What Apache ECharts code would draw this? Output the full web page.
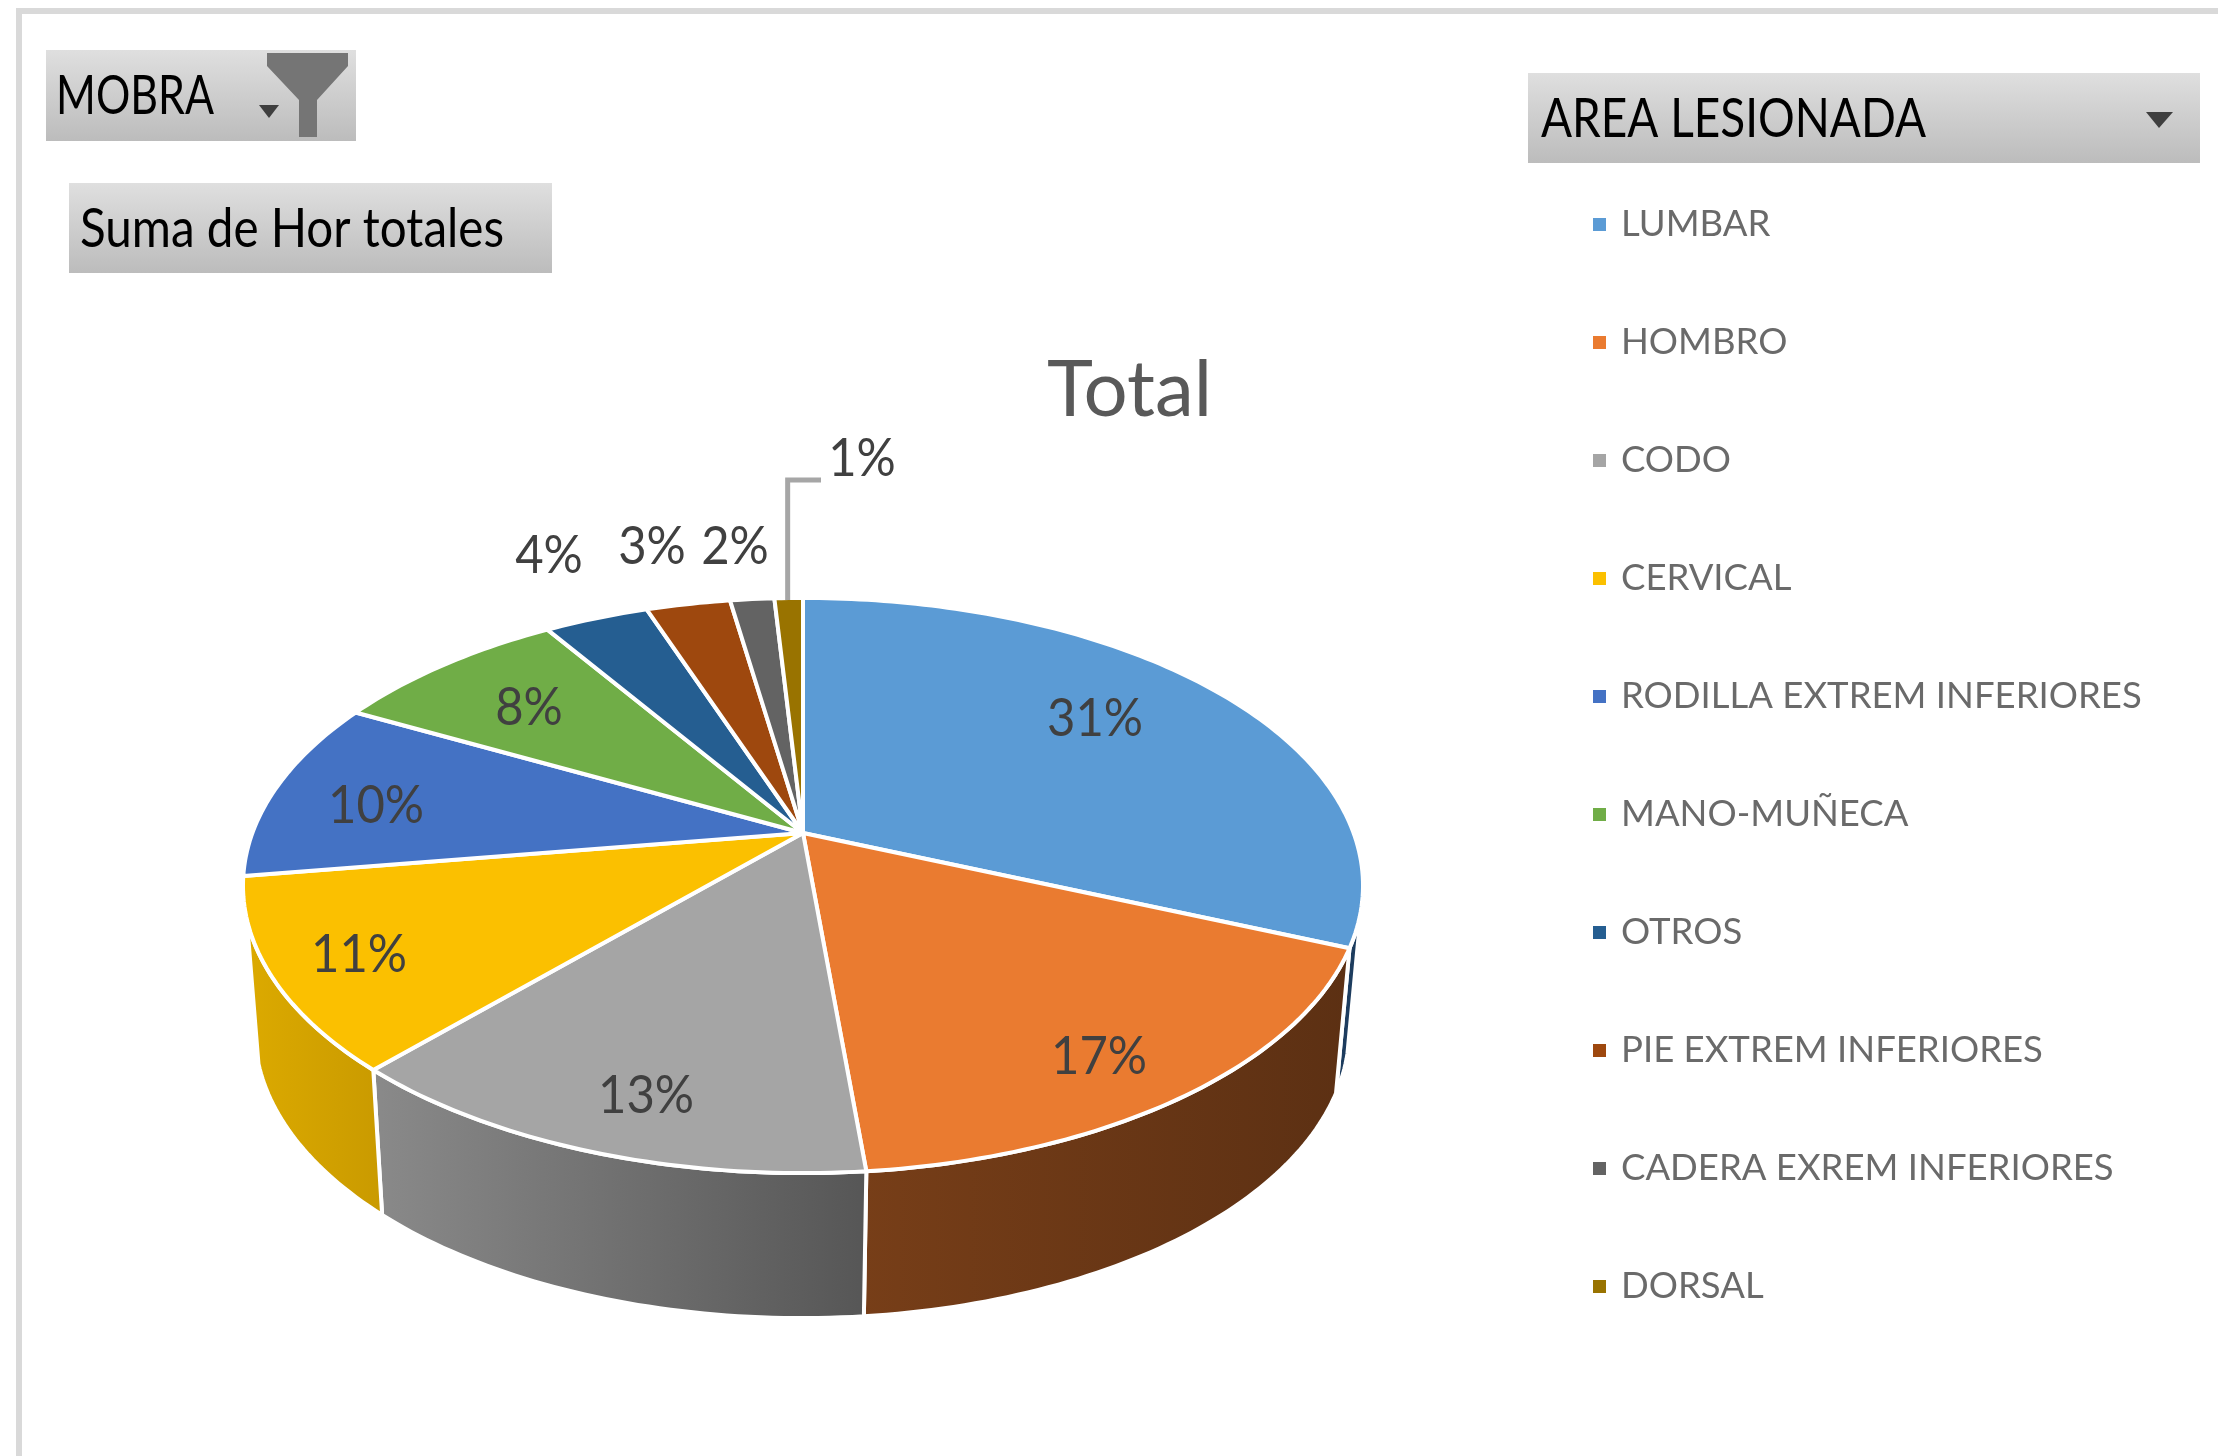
<!DOCTYPE html>
<html><head><meta charset="utf-8">
<style>html,body{margin:0;padding:0;background:#fff}#c{width:2218px;height:1456px}</style>
<script src="https://cdn.jsdelivr.net/npm/echarts@6/dist/echarts.min.js"></script>
</head><body><div id="c"></div>
<script>
// ---- data ----
const categories = ['LUMBAR','HOMBRO','CODO','CERVICAL','RODILLA EXTREM INFERIORES','MANO-MUÑECA','OTROS','PIE EXTREM INFERIORES','CADERA EXREM INFERIORES','DORSAL'];
const values = [31.3,17.2,13.3,10.8,10.2,8.2,3.6,2.9,1.52,0.98];
// ---- styles ----
const topColors = ['#5b9bd5','#ea7b30','#a5a5a5','#fbc000','#4472c4','#70ad47','#255e91','#9e480e','#636363','#997300'];
const wallColors = [['#1d3c5e','#1d3c5e'],['#773e18','#5c3013'],['#8a8a8a','#565656'],['#dcaa00','#c99a00'],null,null,null,null,null,null];
const labelCenters = [[1095,719],[1099,1057],[646,1096],[359,955],[376,806],[529,708],[549,556],[652,547],[735,547],[862,459]];
const FONT = 'Lato,"Liberation Sans",sans-serif';
// ---- 3D pie projection ----
const K = 0.1826;
const topFace = {cx:803, cy:833, A:550.6, B:278};
const baseFace = {cx:802, cy:978, A:538, B:278};
const WALL_FROM = 105, WALL_TO = 253;
const total = values.reduce((a,b)=>a+b,0);
const measure = document.createElement('canvas').getContext('2d');
function widthFit(text,font,target){ measure.font=font; return target/measure.measureText(text).width; }
const labelFont = '53px '+FONT;
const labelScale = widthFit('31%',labelFont,96);
function project(face, deg){
  const t = deg*Math.PI/180, u = Math.sin(t), v = -Math.cos(t), w = 1-K*v;
  return [face.cx+face.A*u/w, face.cy+face.B*v/w];
}
function arc(face, from, to){
  const pts=[]; const n=Math.max(2,Math.ceil(Math.abs(to-from)));
  for(let i=0;i<=n;i++) pts.push(project(face, from+(to-from)*i/n));
  return pts;
}
function sliceSpan(i){
  let before=0; for(let j=0;j<i;j++) before+=values[j];
  return [before/total*360,(before+values[i])/total*360];
}
function renderSlice(i){
  return function(params, api){
    const [a0,a1]=sliceSpan(i);
    const kids=[];
    const wa=Math.max(a0,WALL_FROM), wb=Math.min(a1,WALL_TO);
    if(wb>wa && wallColors[i]){
      const pts=arc(topFace,wa,wb).concat(arc(baseFace,wb,wa));
      kids.push({type:'polygon',shape:{points:pts},style:{
        fill:new echarts.graphic.LinearGradient(0,0,1,0,[{offset:0,color:wallColors[i][0]},{offset:1,color:wallColors[i][1]}]),
        stroke:'#fff',lineWidth:4,lineJoin:'round'}});
    }
    const pts=[[topFace.cx,topFace.cy]].concat(arc(topFace,a0,a1));
    kids.push({type:'polygon',shape:{points:pts},style:{fill:topColors[i],stroke:'#fff',lineWidth:4,lineJoin:'round'},z2:5});
    const c=labelCenters[i];
    if(i===values.length-1){
      const rim=project(topFace,(a0+a1)/2);
      kids.push({type:'polyline',shape:{points:[[rim[0]-1,rim[1]+2],[rim[0]-1,480],[821,480]]},style:{fill:'none',stroke:'#a6a6a6',lineWidth:5},z2:6});
    }
    kids.push({type:'text',z2:10,x:c[0],y:c[1],scaleX:labelScale,style:{text:Math.round(values[i]/total*100)+'%',x:0,y:0,align:'center',verticalAlign:'middle',fill:'#404040',font:labelFont}});
    return {type:'group',children:kids};
  };
}
const series = categories.map((name,i)=>({
  type:'custom',name,coordinateSystem:'none',data:[values[i]],
  itemStyle:{color:topColors[i]},renderItem:renderSlice(i),silent:true,animation:false
}));
function button(x,y,w,h){
  return {type:'rect',shape:{x,y,width:w,height:h},style:{fill:new echarts.graphic.LinearGradient(0,0,0,1,[{offset:0,color:'#dfdfdf'},{offset:1,color:'#bcbcbc'}])}};
}
function label(text,x,y,target){
  const font='54px '+FONT;
  return {type:'text',x,y,scaleX:widthFit(text,font,target),style:{text,x:0,y:0,align:'left',verticalAlign:'middle',fill:'#000',font},z:5};
}
const chart = echarts.init(document.getElementById('c'),null,{renderer:'canvas'});
chart.setOption({
  animation:false,backgroundColor:'#fff',
  title:{text:'Total',left:1047,top:352,padding:0,textStyle:{color:'#595959',fontSize:78,fontWeight:'normal',fontFamily:FONT}},
  legend:{orient:'vertical',left:1588,top:201,itemWidth:13,itemHeight:13,itemGap:81,icon:'rect',selectedMode:false,
    data:categories,textStyle:{color:'#6a6a6a',fontSize:36.5,fontFamily:FONT,padding:[0,0,0,10]}},
  graphic:[
    {type:'rect',shape:{x:16,y:8,width:2202,height:6},style:{fill:'#d9d9d9'}},
    {type:'rect',shape:{x:16,y:8,width:6,height:1448},style:{fill:'#d9d9d9'}},
    button(46,50,310,91), label('MOBRA',56,97,158),
    {type:'polygon',shape:{points:[[267,53],[348,53],[348,66],[317,100],[317,137],[299,137],[299,100],[267,66]]},style:{fill:'#757575'},z:5},
    {type:'polygon',shape:{points:[[259,105],[279,105],[269,118]]},style:{fill:'#3f3f3f'},z:5},
    button(69,183,483,90), label('Suma de Hor totales',80,230,424),
    button(1528,73,672,90), label('AREA LESIONADA',1541,120,385),
    {type:'polygon',shape:{points:[[2146,112],[2173,112],[2159,128]]},style:{fill:'#3f3f3f'},z:5}
  ],
  series
});
</script></body></html>
